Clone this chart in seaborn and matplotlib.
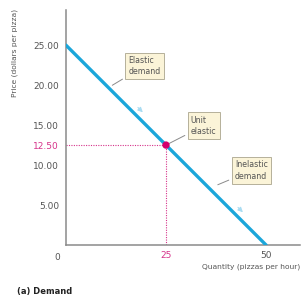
import matplotlib
matplotlib.use("Agg")
import matplotlib.pyplot as plt
import seaborn as sns

# demand curve
quantity = [0, 50]
price = [25.0, 0.0]

# unit elastic point
unit_q = 25
unit_p = 12.5

y_ticks = [5, 10, 15, 20, 25]
y_tick_labels = ["5.00", "10.00", "15.00", "20.00", "25.00"]
x_ticks = [25, 50]
x_tick_labels = ["25", "50"]

line_blue = "#1ba6da"
pale_blue = "#a9dcf2"
pink = "#d6338a"
grey = "#8a8a8a"
text_grey = "#555555"
box_fill = "#fbf4d8"

sns.set_style("white")
plt.rcParams['font.family'] = ['DejaVu Sans']

fig = plt.figure(figsize=(3.01, 3.01), dpi=100)
ax = fig.add_axes([0.219, 0.186, 0.778, 0.781])

sns.lineplot(x=quantity, y=price, ax=ax, color=line_blue, linewidth=2.4, zorder=3)

# dotted guide lines to the unit elastic point
ax.plot([0, unit_q], [unit_p, unit_p], color=pink, linestyle=(0, (1, 1.2)), linewidth=0.8, zorder=2)
ax.plot([unit_q, unit_q], [0, unit_p], color=pink, linestyle=(0, (1, 1.2)), linewidth=0.8, zorder=2)
ax.scatter([unit_q], [unit_p], s=28, color="#d4006e", zorder=5, edgecolors="none")

# pale arrows showing movement along the curve
for q0 in [17.5, 42.5]:
    p0 = 25 - q0 / 2 + 1.2
    ax.annotate("", xy=(q0 + 2.2, p0 - 1.1), xytext=(q0, p0),
                arrowprops=dict(arrowstyle="-|>", color=pale_blue, lw=0.8,
                                mutation_scale=7), zorder=4)

ax.set_xlim(0, 58.5)
ax.set_ylim(0, 29.4)

ax.set_yticks(y_ticks + [unit_p])
ax.set_yticklabels(y_tick_labels + ["12.50"])
ax.set_xticks(x_ticks)
ax.set_xticklabels(x_tick_labels)
ax.tick_params(axis="y", length=3, width=0.8, color=grey, labelsize=6.5,
               labelcolor=text_grey, pad=2)
ax.tick_params(axis="x", length=0, labelsize=6.5, labelcolor=text_grey, pad=4)
ax.get_yticklabels()[-1].set_color(pink)
ax.get_xticklabels()[0].set_color(pink)

ax.annotate("0", xy=(0, 0), xytext=(-6, -6), textcoords="offset points",
            ha="center", va="top", fontsize=6.5, color=text_grey)

sns.despine(ax=ax)
for side in ["left", "bottom"]:
    ax.spines[side].set_color(grey)
    ax.spines[side].set_linewidth(1.1)

ax.set_xlabel("")
ax.set_ylabel("")
fig.text(0.05, 0.97, "Price (dollars per pizza)", rotation=90, ha="center", va="top",
         fontsize=5.4, color=text_grey)
fig.text(0.998, 0.113, "Quantity (pizzas per hour)", ha="right", va="center",
         fontsize=5.4, color=text_grey)
fig.text(0.055, 0.03, "(a) Demand", ha="left", va="center", fontsize=6,
         fontweight="bold", color="#222222")

box = dict(boxstyle="square,pad=0.4", fc=box_fill, ec="#b5b09a", lw=0.7)
leader = dict(arrowstyle="-", color=grey, lw=0.7)
ax.annotate("Elastic\ndemand", xy=(11, 19.8), xytext=(15.6, 22.4), fontsize=5.7,
            color=text_grey, ha="left", va="center", bbox=box, arrowprops=leader,
            linespacing=1.35)
ax.annotate("Unit\nelastic", xy=(unit_q, unit_p), xytext=(31.2, 14.9), fontsize=5.7,
            color=text_grey, ha="left", va="center", bbox=box, arrowprops=leader,
            linespacing=1.35)
ax.annotate("Inelastic\ndemand", xy=(37.3, 7.4), xytext=(42.2, 9.3), fontsize=5.7,
            color=text_grey, ha="left", va="center", bbox=box, arrowprops=leader,
            linespacing=1.35)

fig.savefig("out.png", dpi=100)
